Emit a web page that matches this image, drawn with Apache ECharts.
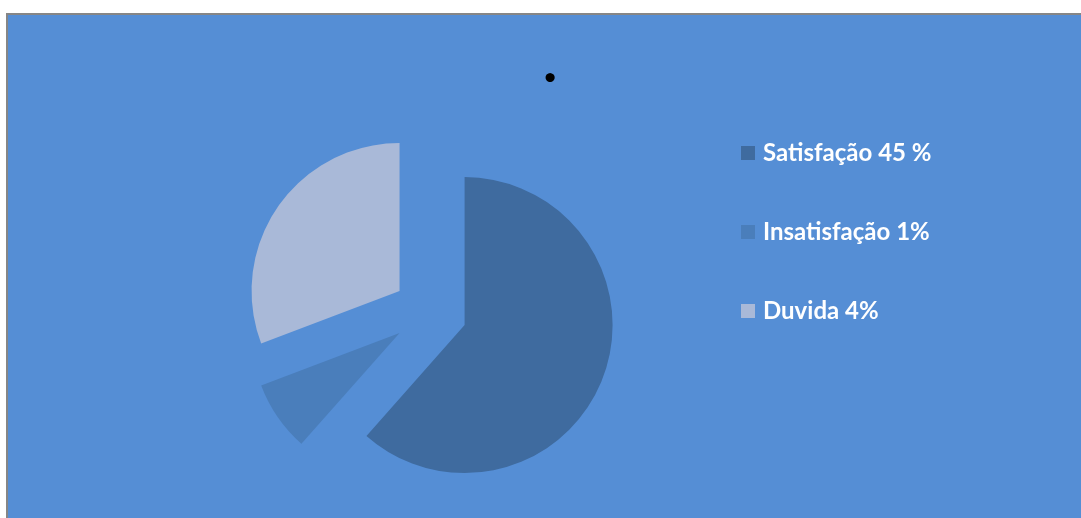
<!DOCTYPE html>
<html>
<head>
<meta charset="utf-8">
<script src="https://cdn.jsdelivr.net/npm/echarts@6/dist/echarts.min.js"></script>
<style>
  html, body { margin: 0; padding: 0; background: #ffffff; overflow: hidden; }
  #frame {
    position: absolute; left: 6px; top: 13px;
    width: 1090px; height: 520px;
    border-left: 2px solid #868686; border-top: 2px solid #868686;
    background: #558ed5;
  }
  #chart { width: 1090px; height: 520px; }
</style>
</head>
<body>
<div id="frame"><div id="chart"></div></div>
<script>
// Categories and their shares
const categories = ['Satisfação 45 %', 'Insatisfação 1%', 'Duvida 4%'];
const values = [8, 1, 4];
const colors = ['#3f6b9f', '#4a7ebb', '#a9b9d8'];

const chart = echarts.init(document.getElementById('chart'), null, { renderer: 'canvas' });

chart.setOption({
  animation: false,
  backgroundColor: '#558ed5',
  title: {
    text: '.',
    left: 535, top: 18,
    padding: 0,
    textStyle: { color: '#000000', fontSize: 60, fontWeight: 'bold', fontFamily: 'Lato' }
  },
  legend: {
    orient: 'vertical',
    left: 733, top: 126,
    padding: 0,
    itemWidth: 14, itemHeight: 14,
    itemGap: 55,
    icon: 'rect',
    selectedMode: false,
    textStyle: { color: '#ffffff', fontSize: 24, fontWeight: 'bold', fontFamily: 'Lato', padding: [0, 0, 0, 3] },
    data: categories
  },
  series: [{
    type: 'pie',
    center: [422, 297],
    radius: 148,
    startAngle: 90,
    clockwise: true,
    selectedMode: 'multiple',
    selectedOffset: 37,
    label: { show: false },
    labelLine: { show: false },
    emphasis: { disabled: true },
    itemStyle: { borderWidth: 0 },
    data: categories.map((name, i) => ({
      name: name,
      value: values[i],
      selected: true,
      itemStyle: { color: colors[i] }
    }))
  }]
});
</script>
</body>
</html>
